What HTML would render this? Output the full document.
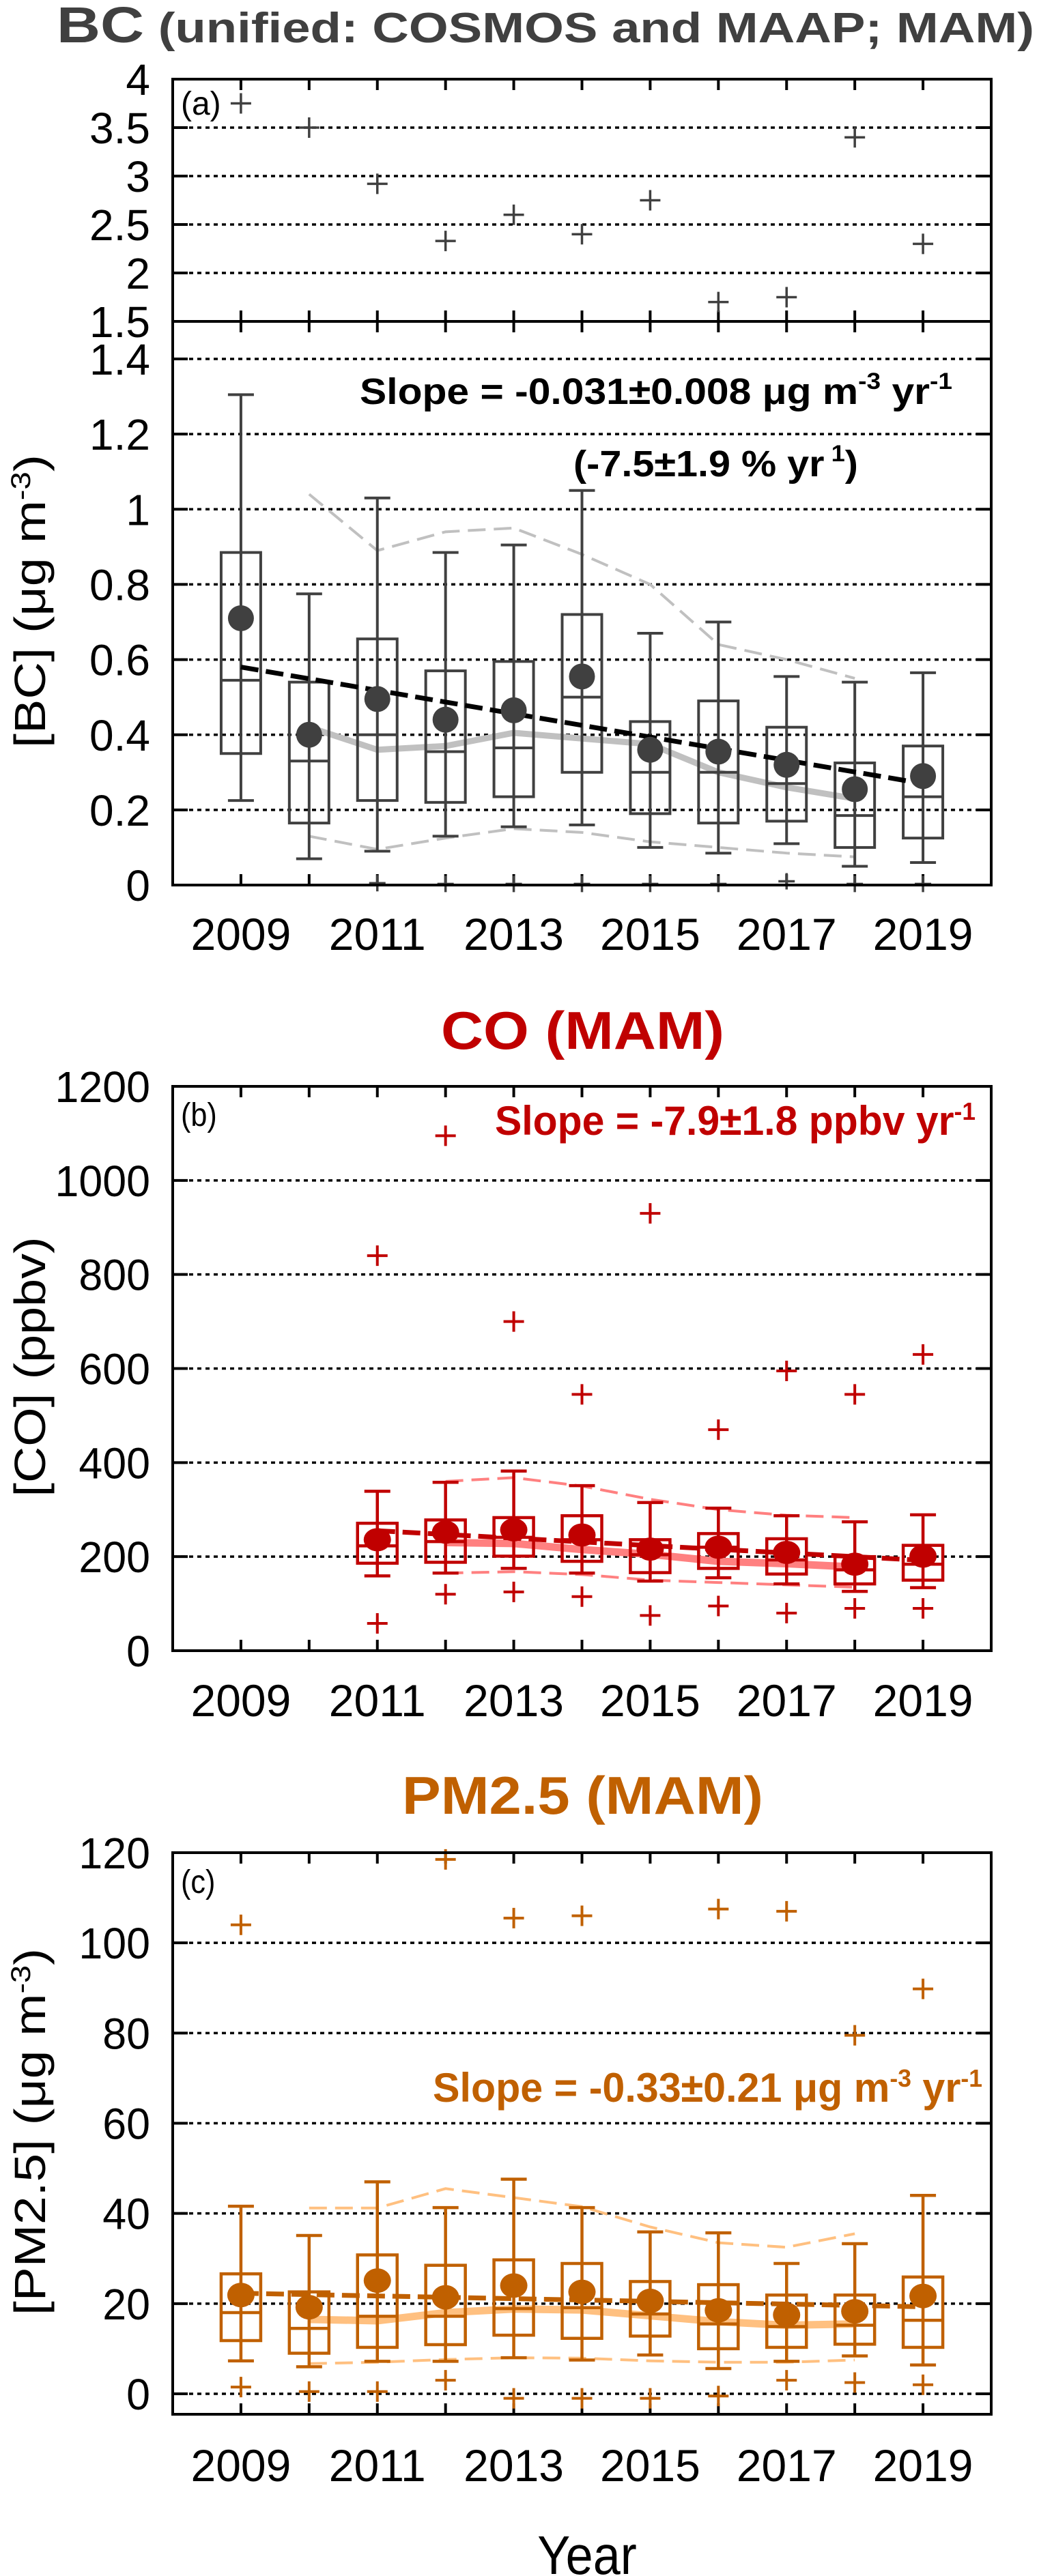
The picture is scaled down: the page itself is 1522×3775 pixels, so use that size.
<!DOCTYPE html>
<html><head><meta charset="utf-8"><style>
html,body{margin:0;padding:0;background:#fff;}
svg{display:block;font-family:"Liberation Sans",Arial,sans-serif;}
</style></head><body>
<svg id="chart" width="1522" height="3775" viewBox="0 0 1522 3775" xmlns="http://www.w3.org/2000/svg"></svg>
<script>
const years=[2009,2010,2011,2012,2013,2014,2015,2016,2017,2018,2019];
const smoothYears=[2010,2011,2012,2013,2014,2015,2016,2017,2018];
// BC
const bcWhiskLo=[0.225,0.07,0.09,0.13,0.155,0.16,0.10,0.085,0.11,0.05,0.06];
const bcBoxLo=[0.35,0.165,0.225,0.22,0.235,0.30,0.19,0.165,0.17,0.10,0.125];
const bcMed=[0.545,0.33,0.40,0.355,0.365,0.50,0.30,0.30,0.27,0.185,0.235];
const bcBoxHi=[0.885,0.54,0.655,0.57,0.595,0.72,0.435,0.49,0.42,0.325,0.37];
const bcWhiskHi=[1.305,0.775,1.03,0.885,0.905,1.05,0.67,0.70,0.555,0.54,0.565];
const bcMean=[0.71,0.40,0.495,0.44,0.465,0.555,0.36,0.355,0.32,0.255,0.29];
const bcOutHi=[3.75,3.5,2.92,2.33,2.6,2.4,2.75,1.7,1.75,3.4,2.3];
const bcOutLo=[null,null,0.005,0.003,0.003,0.003,0.003,0.003,0.01,0.003,0.003];
const bcTrend=[0.58,0.27];
const bcSmooth=[0.42,0.36,0.37,0.405,0.39,0.375,0.30,0.26,0.23];
const bcUpper=[1.04,0.89,0.94,0.95,0.88,0.80,0.64,0.60,0.55];
const bcLower=[0.13,0.095,0.125,0.15,0.14,0.115,0.10,0.085,0.075];
// CO
const coWhiskLo=[null,null,159,165,175,165,148,155,142,126,134];
const coBoxLo=[null,null,186,188,201,190,166,175,163,142,150];
const coMed=[null,null,223,232,241,236,204,220,193,172,184];
const coBoxHi=[null,null,271,278,283,287,236,249,238,200,224];
const coWhiskHi=[null,null,339,358,382,351,315,303,287,274,289];
const coMean=[null,null,236,252,257,246,216,220,209,184,201];
const coOutHi=[null,null,840,1095,700,545,930,470,595,545,630];
const coOutLo=[null,null,58,120,125,115,75,95,80,90,90];
const coTrend=[255,192];
const coTrendYears=[2011,2019];
const coSmoothYears=[2012,2013,2014,2015,2016,2017,2018];
const coSmooth=[230,228,215,205,190,185,178];
const coUpper=[360,368,350,322,300,288,283];
const coLower=[165,168,162,150,145,140,135];
// PM2.5
const pmWhiskLo=[7.3,6,7.2,7.2,8,7.5,8.6,5.6,7.2,8.4,6.4];
const pmBoxLo=[11.8,9,10.3,10.9,13,12.3,12.8,10,10.3,11,10.3];
const pmMed=[18,14.5,17.2,17.2,18.9,19.1,17.7,15.5,14.9,15.2,16.3];
const pmBoxHi=[26.6,22.6,30.8,28.5,29.7,28.9,24.9,24.2,21.9,21.9,25.9];
const pmWhiskHi=[41.6,35.1,47,41.3,47.6,41.3,35.9,35.7,28.9,33.3,44];
const pmMean=[21.9,19.2,25.1,21.4,24,22.6,20.6,18.5,17.5,18.3,21.7];
const pmOutHi=[104,null,null,118.5,105.5,106,null,107.5,107,79.5,89.8];
const pmOutLo=[1.5,0.5,0.5,3,-1,-1,-1,-0.5,3,2.5,2];
const pmTrend=[22.3,19.3];
const pmSmooth=[16.5,16.2,18,18.8,18.6,17.3,16,15.2,15.5];
const pmUpper=[41.2,41.2,45.5,43.5,41.5,37,33.5,32.5,35.5];
const pmLower=[6.7,7,7.6,8,7.9,7.3,7,7,7.5];

const NS="http://www.w3.org/2000/svg";
const svg=document.getElementById('chart');
function el(tag,attrs,parent){const e=document.createElementNS(NS,tag);for(const k in attrs)e.setAttribute(k,attrs[k]);(parent||svg).appendChild(e);return e;}
const XL=253,XR=1452;
function xs(yr){return XL+(yr-2008)*(XR-XL)/12;}
function lin(v0,p0,v1,p1){return v=>p0+(v-v0)*(p1-p0)/(v1-v0);}

function grid(g,y,name){
  const l=el('line',{x1:XL,x2:XR,y1:y,y2:y,stroke:'#000','stroke-width':3.5,'stroke-dasharray':'6,6'},g);
  
  
  el('line',{x1:XL,x2:XL+22,y1:y,y2:y,stroke:'#000','stroke-width':4},g);
  el('line',{x1:XR-22,x2:XR,y1:y,y2:y,stroke:'#000','stroke-width':4},g);
}
function ytick(g,y,txt,fs,sx){
  const t=el('text',{x:220,y:y+fs*0.36,'font-size':fs,'text-anchor':'end',fill:'#000',transform:`translate(220,0) scale(${sx},1) translate(-220,0)`},g);
  t.textContent=txt;
  
  
}
function xticks(g,yTop,yBot,tickLen){
  years.forEach(yr=>{
    const x=xs(yr);
    el('line',{x1:x,x2:x,y1:yTop,y2:yTop+tickLen,stroke:'#000','stroke-width':4},g);
    el('line',{x1:x,x2:x,y1:yBot,y2:yBot-tickLen,stroke:'#000','stroke-width':4},g);
  });
}
function xlabels(g,base,fs,sx){
  years.forEach(yr=>{
    if(yr%2===0)return;
    const x=xs(yr);
    const t=el('text',{x:x,y:base,'font-size':fs,'text-anchor':'middle',fill:'#000',transform:`translate(${x},0) scale(${sx},1) translate(${-x},0)`},g);
    t.textContent=String(yr);
    
    
  });
}
function plus(g,x,y,s,col,w){
  const p=el('path',{d:`M${x-s},${y}H${x+s}M${x},${y-s}V${y+s}`,stroke:col,'stroke-width':w,fill:'none'},g);
  
  
}
function boxes(g,ys,col,lo,bl,md,bh,hi,mean,rx,ry,sw){
  years.forEach((yr,i)=>{
    if(md[i]==null)return;
    const x=xs(yr),hw=29,cap=19;
    const bg=el('g',{},g);
    
    
    el('line',{x1:x,x2:x,y1:ys(hi[i]),y2:ys(lo[i]),stroke:col,'stroke-width':sw},bg);
    el('line',{x1:x-cap,x2:x+cap,y1:ys(hi[i]),y2:ys(hi[i]),stroke:col,'stroke-width':sw},bg);
    el('line',{x1:x-cap,x2:x+cap,y1:ys(lo[i]),y2:ys(lo[i]),stroke:col,'stroke-width':sw},bg);
    el('rect',{x:x-hw,y:ys(bh[i]),width:2*hw,height:ys(bl[i])-ys(bh[i]),fill:'none',stroke:col,'stroke-width':sw},bg);
    el('line',{x1:x-hw,x2:x+hw,y1:ys(md[i]),y2:ys(md[i]),stroke:col,'stroke-width':sw},bg);
  });
}
function means(g,ys,col,mean,rx,ry){
  years.forEach((yr,i)=>{
    if(mean[i]==null)return;
    const c=el('ellipse',{cx:xs(yr),cy:ys(mean[i]),rx:rx,ry:ry,fill:col},g);
    
    
  });
}
function polyline(g,xsArr,vals,ys,attrs,name){
  const pts=xsArr.map((yr,i)=>xs(yr)+','+ys(vals[i])).join(' ');
  const a=Object.assign({points:pts,fill:'none'},attrs);
  const p=el('polyline',a,g);
  
  
}
function txt(g,x,y,fs,str,attrs,name){
  const t=el('text',Object.assign({x:x,y:y,'font-size':fs},attrs||{}),g);
  t.innerHTML=str;
  
  
  return t;
}

/* ===== Panel a ===== */
const ga=el('g',{});


const ya1=lin(1.5,471,4,116);
const ya2=lin(0,1297,1.4,526);
txt(ga,83,62,62,'<tspan font-size="74">BC</tspan> (unified: COSMOS and MAAP; MAM)',{fill:'#404040','font-weight':'bold',textLength:1432,lengthAdjust:'spacingAndGlyphs'},'panel-a-title');
[2,2.5,3,3.5].forEach(v=>grid(ga,ya1(v),'gridline'));
[0.2,0.4,0.6,0.8,1,1.2,1.4].forEach(v=>grid(ga,ya2(v),'gridline'));
['1.5','2','2.5','3','3.5','4'].forEach(s=>ytick(ga,ya1(+s),s,64,1));
['0','0.2','0.4','0.6','0.8','1','1.2','1.4'].forEach(s=>ytick(ga,ya2(+s),s,64,1));
xticks(ga,116,1297,16);
years.forEach(yr=>{const x=xs(yr);el('line',{x1:x,x2:x,y1:471-16,y2:471+16,stroke:'#000','stroke-width':4},ga);});
polyline(ga,smoothYears,bcUpper,ya2,{stroke:'#c0c0c0','stroke-width':4,'stroke-dasharray':'26,12'},'upper-dashed-line');
polyline(ga,smoothYears,bcLower,ya2,{stroke:'#c0c0c0','stroke-width':4,'stroke-dasharray':'26,12'},'lower-dashed-line');
polyline(ga,smoothYears,bcSmooth,ya2,{stroke:'#c0c0c0','stroke-width':9,'stroke-linejoin':'round'},'smooth-median-line');
boxes(ga,ya2,'#404040',bcWhiskLo,bcBoxLo,bcMed,bcBoxHi,bcWhiskHi,bcMean,0,0,4);
polyline(ga,[2009,2019],bcTrend,ya2,{stroke:'#000','stroke-width':7,'stroke-dasharray':'26,11'},'trend-line');
means(ga,ya2,'#404040',bcMean,19,19);
years.forEach((yr,i)=>{plus(ga,xs(yr),ya1(bcOutHi[i]),15,'#404040',3.5); if(bcOutLo[i]!=null)plus(ga,xs(yr),ya2(bcOutLo[i]),12,'#404040',3.5);});
el('rect',{x:XL,y:116,width:XR-XL,height:1297-116,fill:'none',stroke:'#000','stroke-width':4},ga);
el('line',{x1:XL,x2:XR,y1:471,y2:471,stroke:'#000','stroke-width':4},ga);
txt(ga,265,168,48,'(a)',{fill:'#000'},'panel-label-a');
txt(ga,527,592,54,'Slope = -0.031±0.008 μg m<tspan dy="-22" font-size="34">-3</tspan><tspan dy="22"> yr</tspan><tspan dy="-22" font-size="34">-1</tspan>',{'font-weight':'bold',fill:'#000',textLength:868,lengthAdjust:'spacingAndGlyphs'},'slope-annotation-a');
txt(ga,840,698,54,'(-7.5±1.9 % yr<tspan dy="-22" font-size="34"> 1</tspan><tspan dy="22">)</tspan>',{'font-weight':'bold',fill:'#000',textLength:417,lengthAdjust:'spacingAndGlyphs'},'percent-annotation-a');
txt(ga,66,881,64,'[BC] (μg m<tspan dy="-22" font-size="40">-3</tspan><tspan dy="22">)</tspan>',{'text-anchor':'middle',fill:'#000',transform:'rotate(-90 66 881)',textLength:430,lengthAdjust:'spacingAndGlyphs'},'y-axis-title-a');
xlabels(ga,1392,66,1);

/* ===== Panel b ===== */
const gb=el('g',{});


const yb=lin(0,2419,1200,1592);
const RED='#c00000',LRED='#ff8080';
txt(gb,646,1537,78,'CO (MAM)',{fill:RED,'font-weight':'bold',textLength:415,lengthAdjust:'spacingAndGlyphs'},'panel-b-title');
[200,400,600,800,1000].forEach(v=>grid(gb,yb(v),'gridline'));
['0','200','400','600','800','1000','1200'].forEach(s=>ytick(gb,yb(+s),s,64,0.98));
xticks(gb,1592,2419,16);
polyline(gb,coSmoothYears,coUpper,yb,{stroke:LRED,'stroke-width':4,'stroke-dasharray':'26,12'},'upper-dashed-line');
polyline(gb,coSmoothYears,coLower,yb,{stroke:LRED,'stroke-width':4,'stroke-dasharray':'26,12'},'lower-dashed-line');
polyline(gb,coSmoothYears,coSmooth,yb,{stroke:LRED,'stroke-width':11,'stroke-linejoin':'round'},'smooth-median-line');
boxes(gb,yb,RED,coWhiskLo,coBoxLo,coMed,coBoxHi,coWhiskHi,coMean,0,0,4.5);
polyline(gb,coTrendYears,coTrend,yb,{stroke:RED,'stroke-width':7,'stroke-dasharray':'26,11'},'trend-line');
means(gb,yb,RED,coMean,20,17);
years.forEach((yr,i)=>{ if(coOutHi[i]!=null)plus(gb,xs(yr),yb(coOutHi[i]),15,RED,4); if(coOutLo[i]!=null)plus(gb,xs(yr),yb(coOutLo[i]),15,RED,4);});
el('rect',{x:XL,y:1592,width:XR-XL,height:2419-1592,fill:'none',stroke:'#000','stroke-width':4},gb);
txt(gb,265,1650,48,'(b)',{fill:'#000',transform:'translate(265,0) scale(0.9,1) translate(-265,0)'},'panel-label-b');
txt(gb,725,1663,60,'Slope = -7.9±1.8 ppbv yr<tspan dy="-22" font-size="36">-1</tspan>',{fill:RED,'font-weight':'bold',textLength:704,lengthAdjust:'spacingAndGlyphs'},'slope-annotation-b');
txt(gb,66,2003,64,'[CO] (ppbv)',{'text-anchor':'middle',fill:'#000',transform:'rotate(-90 66 2003)',textLength:381,lengthAdjust:'spacingAndGlyphs'},'y-axis-title-b');
xlabels(gb,2515,66,1);

/* ===== Panel c ===== */
const gc=el('g',{});


const yc=lin(0,3508,120,2715);
const OR='#c06000',LOR='#ffc080';
txt(gc,589,2658,78,'PM2.5 (MAM)',{fill:OR,'font-weight':'bold',textLength:529,lengthAdjust:'spacingAndGlyphs'},'panel-c-title');
[0,20,40,60,80,100].forEach(v=>grid(gc,yc(v),'gridline'));
['0','20','40','60','80','100','120'].forEach(s=>ytick(gc,yc(+s),s,64,0.98));
xticks(gc,2715,3538,16);
polyline(gc,smoothYears,pmUpper,yc,{stroke:LOR,'stroke-width':4,'stroke-dasharray':'26,12'},'upper-dashed-line');
polyline(gc,smoothYears,pmLower,yc,{stroke:LOR,'stroke-width':4,'stroke-dasharray':'26,12'},'lower-dashed-line');
polyline(gc,smoothYears,pmSmooth,yc,{stroke:LOR,'stroke-width':11,'stroke-linejoin':'round'},'smooth-median-line');
boxes(gc,yc,OR,pmWhiskLo,pmBoxLo,pmMed,pmBoxHi,pmWhiskHi,pmMean,0,0,4.5);
polyline(gc,[2009,2019],pmTrend,yc,{stroke:OR,'stroke-width':7,'stroke-dasharray':'26,11'},'trend-line');
means(gc,yc,OR,pmMean,20,18);
years.forEach((yr,i)=>{ if(pmOutHi[i]!=null)plus(gc,xs(yr),yc(pmOutHi[i]),15,OR,4); if(pmOutLo[i]!=null)plus(gc,xs(yr),yc(pmOutLo[i]),15,OR,4);});
el('rect',{x:XL,y:2715,width:XR-XL,height:3538-2715,fill:'none',stroke:'#000','stroke-width':4},gc);
txt(gc,265,2774,48,'(c)',{fill:'#000',transform:'translate(265,0) scale(0.9,1) translate(-265,0)'},'panel-label-c');
txt(gc,634,3080,60,'Slope = -0.33±0.21 μg m<tspan dy="-22" font-size="36">-3</tspan><tspan dy="22"> yr</tspan><tspan dy="-22" font-size="36">-1</tspan>',{fill:OR,'font-weight':'bold',textLength:805,lengthAdjust:'spacingAndGlyphs'},'slope-annotation-c');
txt(gc,66,3124,64,'[PM2.5] (μg m<tspan dy="-22" font-size="40">-3</tspan><tspan dy="22">)</tspan>',{'text-anchor':'middle',fill:'#000',transform:'rotate(-90 66 3124)',textLength:538,lengthAdjust:'spacingAndGlyphs'},'y-axis-title-c');
xlabels(gc,3636,66,1);
txt(gc,860,3772,80,'Year',{'text-anchor':'middle',fill:'#000',transform:'translate(860,0) scale(0.9,1) translate(-860,0)'},'x-axis-title');
</script>
</body></html>
